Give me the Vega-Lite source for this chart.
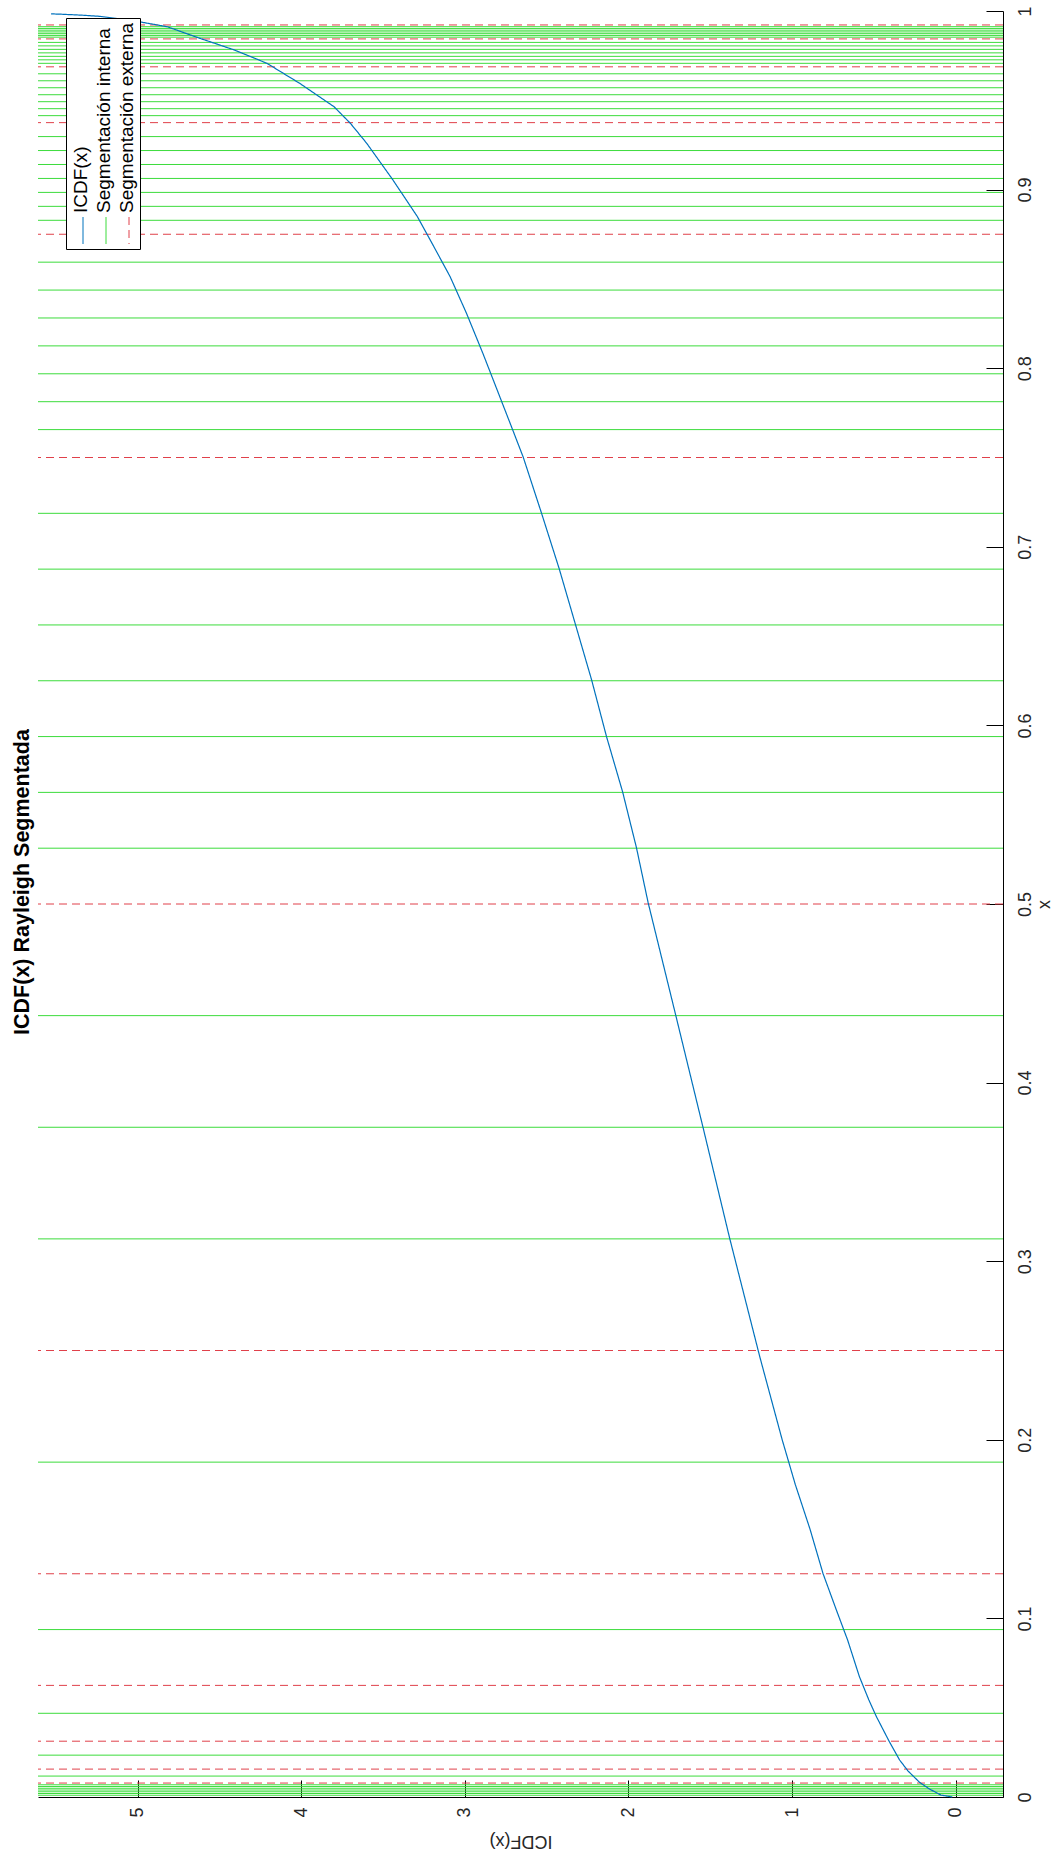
{
  "$schema": "https://vega.github.io/schema/vega-lite/v6.json",
  "width": 965,
  "height": 1786,
  "autosize": {"type": "none"},
  "padding": {"left": 38, "top": 11, "right": 50, "bottom": 62},
  "background": "white",
  "title": {"text": "ICDF(x) Rayleigh Segmentada", "orient": "left", "anchor": "middle", "fontSize": 21.5, "fontWeight": "bold", "font": "Liberation Sans", "color": "black", "offset": 4, "dx": 22},
  "config": {
    "view": {"stroke": null},
    "axis": {"grid": false, "domainColor": "black", "tickColor": "black", "labelFont": "Liberation Sans", "labelFontSize": 18, "labelColor": "#262626", "titleFont": "Liberation Sans", "titleFontSize": 18, "titleFontWeight": "normal", "titleColor": "#262626"}
  },
  "datasets": {
    "curva": [
      {"x": 0, "icdf": 0.02},
      {"x": 0.0011, "icdf": 0.09},
      {"x": 0.0045, "icdf": 0.16},
      {"x": 0.0082, "icdf": 0.22},
      {"x": 0.0145, "icdf": 0.29},
      {"x": 0.0207, "icdf": 0.342},
      {"x": 0.031, "icdf": 0.405},
      {"x": 0.045, "icdf": 0.484},
      {"x": 0.0543, "icdf": 0.53},
      {"x": 0.0674, "icdf": 0.588},
      {"x": 0.0879, "icdf": 0.66},
      {"x": 0.105, "icdf": 0.73},
      {"x": 0.125, "icdf": 0.81},
      {"x": 0.15, "icdf": 0.89},
      {"x": 0.175, "icdf": 0.98},
      {"x": 0.2, "icdf": 1.06},
      {"x": 0.2465, "icdf": 1.197},
      {"x": 0.3128, "icdf": 1.381},
      {"x": 0.3749, "icdf": 1.544},
      {"x": 0.4374, "icdf": 1.71},
      {"x": 0.5009, "icdf": 1.88},
      {"x": 0.5315, "icdf": 1.951},
      {"x": 0.5629, "icdf": 2.036},
      {"x": 0.5937, "icdf": 2.134},
      {"x": 0.6254, "icdf": 2.225},
      {"x": 0.6562, "icdf": 2.323},
      {"x": 0.6876, "icdf": 2.423},
      {"x": 0.7187, "icdf": 2.531},
      {"x": 0.7501, "icdf": 2.643},
      {"x": 0.766, "icdf": 2.71},
      {"x": 0.7933, "icdf": 2.826},
      {"x": 0.8083, "icdf": 2.89},
      {"x": 0.8307, "icdf": 2.99},
      {"x": 0.8512, "icdf": 3.09},
      {"x": 0.8681, "icdf": 3.19},
      {"x": 0.8848, "icdf": 3.29},
      {"x": 0.9054, "icdf": 3.44},
      {"x": 0.9259, "icdf": 3.6},
      {"x": 0.9371, "icdf": 3.7},
      {"x": 0.9464, "icdf": 3.8},
      {"x": 0.9595, "icdf": 4.01},
      {"x": 0.9707, "icdf": 4.21},
      {"x": 0.9782, "icdf": 4.41},
      {"x": 0.9847, "icdf": 4.62},
      {"x": 0.9912, "icdf": 4.82},
      {"x": 0.9946, "icdf": 5.03},
      {"x": 0.997, "icdf": 5.23},
      {"x": 0.9977, "icdf": 5.35},
      {"x": 0.9982, "icdf": 5.47},
      {"x": 0.9984, "icdf": 5.53}
    ],
    "seg": [
      {"x": 0.0009765625, "tipo": "Segmentación interna"},
      {"x": 0.001953125, "tipo": "Segmentación interna"},
      {"x": 0.0029296875, "tipo": "Segmentación interna"},
      {"x": 0.00390625, "tipo": "Segmentación interna"},
      {"x": 0.0048828125, "tipo": "Segmentación interna"},
      {"x": 0.005859375, "tipo": "Segmentación interna"},
      {"x": 0.0068359375, "tipo": "Segmentación interna"},
      {"x": 0.01171875, "tipo": "Segmentación interna"},
      {"x": 0.0234375, "tipo": "Segmentación interna"},
      {"x": 0.046875, "tipo": "Segmentación interna"},
      {"x": 0.09375, "tipo": "Segmentación interna"},
      {"x": 0.1875, "tipo": "Segmentación interna"},
      {"x": 0.3125, "tipo": "Segmentación interna"},
      {"x": 0.375, "tipo": "Segmentación interna"},
      {"x": 0.4375, "tipo": "Segmentación interna"},
      {"x": 0.53125, "tipo": "Segmentación interna"},
      {"x": 0.5625, "tipo": "Segmentación interna"},
      {"x": 0.59375, "tipo": "Segmentación interna"},
      {"x": 0.625, "tipo": "Segmentación interna"},
      {"x": 0.65625, "tipo": "Segmentación interna"},
      {"x": 0.6875, "tipo": "Segmentación interna"},
      {"x": 0.71875, "tipo": "Segmentación interna"},
      {"x": 0.765625, "tipo": "Segmentación interna"},
      {"x": 0.78125, "tipo": "Segmentación interna"},
      {"x": 0.796875, "tipo": "Segmentación interna"},
      {"x": 0.8125, "tipo": "Segmentación interna"},
      {"x": 0.828125, "tipo": "Segmentación interna"},
      {"x": 0.84375, "tipo": "Segmentación interna"},
      {"x": 0.859375, "tipo": "Segmentación interna"},
      {"x": 0.8828125, "tipo": "Segmentación interna"},
      {"x": 0.890625, "tipo": "Segmentación interna"},
      {"x": 0.8984375, "tipo": "Segmentación interna"},
      {"x": 0.90625, "tipo": "Segmentación interna"},
      {"x": 0.9140625, "tipo": "Segmentación interna"},
      {"x": 0.921875, "tipo": "Segmentación interna"},
      {"x": 0.9296875, "tipo": "Segmentación interna"},
      {"x": 0.94140625, "tipo": "Segmentación interna"},
      {"x": 0.9453125, "tipo": "Segmentación interna"},
      {"x": 0.94921875, "tipo": "Segmentación interna"},
      {"x": 0.953125, "tipo": "Segmentación interna"},
      {"x": 0.95703125, "tipo": "Segmentación interna"},
      {"x": 0.9609375, "tipo": "Segmentación interna"},
      {"x": 0.96484375, "tipo": "Segmentación interna"},
      {"x": 0.970703125, "tipo": "Segmentación interna"},
      {"x": 0.97265625, "tipo": "Segmentación interna"},
      {"x": 0.974609375, "tipo": "Segmentación interna"},
      {"x": 0.9765625, "tipo": "Segmentación interna"},
      {"x": 0.978515625, "tipo": "Segmentación interna"},
      {"x": 0.98046875, "tipo": "Segmentación interna"},
      {"x": 0.982421875, "tipo": "Segmentación interna"},
      {"x": 0.9853515625, "tipo": "Segmentación interna"},
      {"x": 0.986328125, "tipo": "Segmentación interna"},
      {"x": 0.9873046875, "tipo": "Segmentación interna"},
      {"x": 0.98828125, "tipo": "Segmentación interna"},
      {"x": 0.9892578125, "tipo": "Segmentación interna"},
      {"x": 0.990234375, "tipo": "Segmentación interna"},
      {"x": 0.9912109375, "tipo": "Segmentación interna"},
      {"x": 0.0078125, "tipo": "Segmentación externa"},
      {"x": 0.015625, "tipo": "Segmentación externa"},
      {"x": 0.03125, "tipo": "Segmentación externa"},
      {"x": 0.0625, "tipo": "Segmentación externa"},
      {"x": 0.125, "tipo": "Segmentación externa"},
      {"x": 0.25, "tipo": "Segmentación externa"},
      {"x": 0.5, "tipo": "Segmentación externa"},
      {"x": 0.75, "tipo": "Segmentación externa"},
      {"x": 0.875, "tipo": "Segmentación externa"},
      {"x": 0.9375, "tipo": "Segmentación externa"},
      {"x": 0.96875, "tipo": "Segmentación externa"},
      {"x": 0.984375, "tipo": "Segmentación externa"},
      {"x": 0.9921875, "tipo": "Segmentación externa"}
    ]
  },
  "layer": [
    {
      "data": {"name": "seg"},
      "mark": {"type": "rule", "strokeWidth": 1},
      "encoding": {
        "y": {"field": "x", "type": "quantitative", "scale": {"domain": [0, 1], "nice": false, "zero": false},
          "axis": {"orient": "right", "title": "x", "values": [0, 0.1, 0.2, 0.3, 0.4, 0.5, 0.6, 0.7, 0.8, 0.9, 1], "format": "~g", "labelAngle": -90, "labelAlign": "center", "labelBaseline": "top", "tickSize": -17, "labelPadding": 30, "titleAngle": 270, "titleAlign": "center", "titleBaseline": "top", "titlePadding": 1}},
        "color": {"field": "tipo", "type": "nominal",
          "scale": {"domain": ["ICDF(x)", "Segmentación interna", "Segmentación externa"], "range": ["#0072BD", "#3cdc3c", "#e0404a"]},
          "legend": {"title": null, "orient": "none", "legendX": 28, "legendY": 7, "direction": "horizontal", "strokeColor": "black", "fillColor": "white", "padding": 3, "columnPadding": 1, "symbolType": "M0,-1L0,1", "symbolSize": 729, "symbolStrokeWidth": 1, "labelFont": "Liberation Sans", "labelFontSize": 19, "labelColor": "black", "labelLimit": 400,
            "encoding": {"labels": {"angle": {"value": -90}, "align": {"value": "left"}, "baseline": {"value": "middle"}, "x": {"value": 12}, "y": {"value": 192}}, "symbols": {"y": {"value": 209.5}}}}},
        "strokeDash": {"field": "tipo", "type": "nominal",
          "scale": {"domain": ["ICDF(x)", "Segmentación interna", "Segmentación externa"], "range": [[1, 0], [1, 0], [8, 5]]},
          "legend": {"title": null, "orient": "none", "legendX": 28, "legendY": 7, "direction": "horizontal", "strokeColor": "black", "fillColor": "white", "padding": 3, "columnPadding": 1, "symbolType": "M0,-1L0,1", "symbolSize": 729, "symbolStrokeWidth": 1, "labelFont": "Liberation Sans", "labelFontSize": 19, "labelColor": "black", "labelLimit": 400,
            "encoding": {"labels": {"angle": {"value": -90}, "align": {"value": "left"}, "baseline": {"value": "middle"}, "x": {"value": 12}, "y": {"value": 192}}, "symbols": {"y": {"value": 209.5}}}}}
      }
    },
    {
      "data": {"name": "curva"},
      "mark": {"type": "line", "strokeWidth": 1.2},
      "encoding": {
        "x": {"field": "icdf", "type": "quantitative", "scale": {"domain": [-0.29, 5.61], "reverse": true, "nice": false, "zero": false},
          "axis": {"orient": "bottom", "title": "ICDF(x)", "values": [0, 1, 2, 3, 4, 5], "labelAngle": -90, "labelAlign": "right", "labelBaseline": "middle", "tickSize": -17, "labelPadding": 27, "titleAngle": 180, "titleAlign": "center", "titleBaseline": "bottom", "titlePadding": 14}},
        "y": {"field": "x", "type": "quantitative"},
        "color": {"datum": "ICDF(x)"},
        "strokeDash": {"datum": "ICDF(x)"}
      }
    }
  ]
}
